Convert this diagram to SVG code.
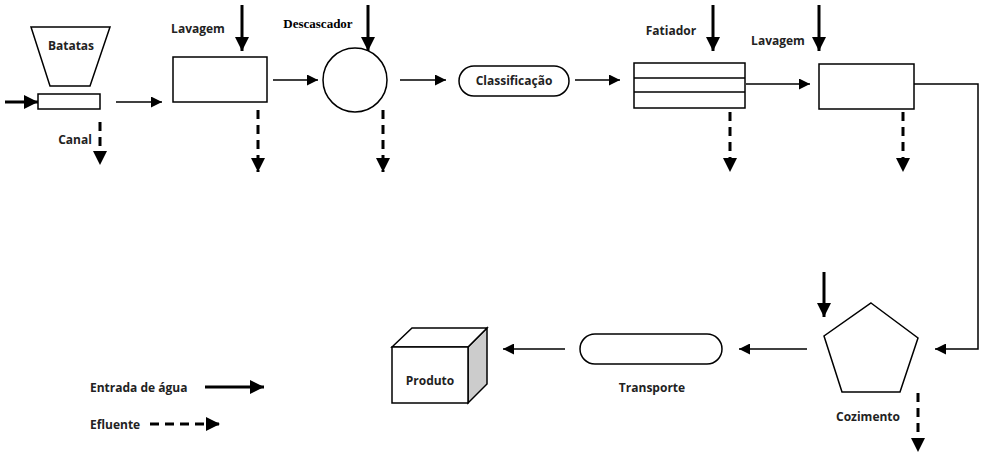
<svg xmlns="http://www.w3.org/2000/svg" width="986" height="457" viewBox="0 0 986 457">
<style>
.s{fill:#fff;stroke:#000;stroke-width:1.5}
.t{font-family:"Open Sans","Liberation Sans",sans-serif;font-size:12px;font-weight:bold;fill:#222}
.c{fill:none;stroke:#000;stroke-width:1.5}
.w{fill:none;stroke:#000;stroke-width:3}
.d{fill:none;stroke:#000;stroke-width:3;stroke-dasharray:9,6}
</style>
<defs>
<marker id="a" viewBox="0 0 10 10" refX="10" refY="5" markerWidth="16" markerHeight="14" markerUnits="userSpaceOnUse" orient="auto"><path d="M0,0L10,5L0,10z"/></marker>
<marker id="b" viewBox="0 0 10 10" refX="10" refY="5" markerWidth="13" markerHeight="11" markerUnits="userSpaceOnUse" orient="auto"><path d="M0,0L10,5L0,10z"/></marker>
</defs>
<g id="batatas"><polygon class="s" points="31,27 110,27 90,86 50,86"/><text class="t" x="71" y="50" text-anchor="middle">Batatas</text></g>
<g id="canal"><rect class="s" x="38" y="94" width="62" height="15"/><text class="t" x="75" y="144" text-anchor="middle">Canal</text></g>
<g id="lavagem1"><rect class="s" x="173" y="57" width="94" height="45"/><text class="t" x="198" y="33" text-anchor="middle">Lavagem</text></g>
<g id="descascador"><circle class="s" cx="355" cy="80" r="32"/><text x="318" y="28" text-anchor="middle" style="font-family:'Liberation Serif',serif;font-size:13px;font-weight:bold">Descascador</text></g>
<g id="classificacao"><rect class="s" x="459" y="66" width="110" height="30" rx="15"/><text class="t" x="514" y="85" text-anchor="middle">Classificação</text></g>
<g id="fatiador"><rect class="s" x="634" y="63" width="111" height="45"/><line class="c" x1="634" y1="78" x2="745" y2="78"/><line class="c" x1="634" y1="92" x2="745" y2="92"/><text class="t" x="671" y="35" text-anchor="middle">Fatiador</text></g>
<g id="lavagem2"><rect class="s" x="819" y="64" width="95" height="45"/><text class="t" x="778" y="45" text-anchor="middle">Lavagem</text></g>
<g id="cozimento"><polygon class="s" points="871,303 918,338 900,392 842,392 824,336"/><text class="t" x="868" y="421" text-anchor="middle">Cozimento</text></g>
<g id="transporte"><rect class="s" x="580" y="334" width="142" height="30" rx="15"/><text class="t" x="652" y="392" text-anchor="middle">Transporte</text></g>
<g id="produto"><polygon fill="#ccc" stroke="#000" stroke-width="1.5" points="468,347 487,328 487,384 468,403"/><polygon class="s" points="392,347 412,328 487,328 468,347"/><rect class="s" x="392" y="347" width="76" height="56"/><text class="t" x="430" y="385" text-anchor="middle">Produto</text></g>
<g id="legenda"><text class="t" x="90" y="392">Entrada de água</text><text class="t" x="90" y="429">Efluente</text></g>
<g id="connectors">
<line class="w" x1="5" y1="102" x2="38" y2="102" marker-end="url(#a)"/>
<line class="c" x1="116" y1="102" x2="162" y2="102" marker-end="url(#b)"/>
<line class="d" x1="100" y1="122" x2="100" y2="165" marker-end="url(#a)"/>
<line class="w" x1="242" y1="5" x2="242" y2="51" marker-end="url(#a)"/>
<line class="d" x1="258" y1="110" x2="258" y2="172" marker-end="url(#a)"/>
<line class="c" x1="273" y1="80" x2="318" y2="80" marker-end="url(#b)"/>
<line class="w" x1="368" y1="5" x2="368" y2="51" marker-end="url(#a)"/>
<line class="d" x1="383" y1="110" x2="383" y2="172" marker-end="url(#a)"/>
<line class="c" x1="400" y1="80" x2="446" y2="80" marker-end="url(#b)"/>
<line class="c" x1="575" y1="80" x2="620" y2="80" marker-end="url(#b)"/>
<line class="w" x1="713" y1="5" x2="713" y2="51" marker-end="url(#a)"/>
<line class="d" x1="730" y1="112" x2="730" y2="172" marker-end="url(#a)"/>
<line class="c" x1="746" y1="84" x2="810" y2="84" marker-end="url(#b)"/>
<line class="w" x1="819" y1="5" x2="819" y2="51" marker-end="url(#a)"/>
<line class="d" x1="903" y1="112" x2="903" y2="172" marker-end="url(#a)"/>
<polyline class="c" points="914,84 978,84 978,349 935,349" marker-end="url(#b)"/>
<line class="w" x1="824" y1="272" x2="824" y2="317" marker-end="url(#a)"/>
<line class="d" x1="918" y1="393" x2="918" y2="452" marker-end="url(#a)"/>
<line class="c" x1="807" y1="349" x2="739" y2="349" marker-end="url(#b)"/>
<line class="c" x1="565" y1="349" x2="503" y2="349" marker-end="url(#b)"/>
<line class="w" x1="205" y1="387" x2="264" y2="387" marker-end="url(#a)"/>
<line class="d" x1="150" y1="424" x2="220" y2="424" marker-end="url(#a)"/>
</g>
</svg>
